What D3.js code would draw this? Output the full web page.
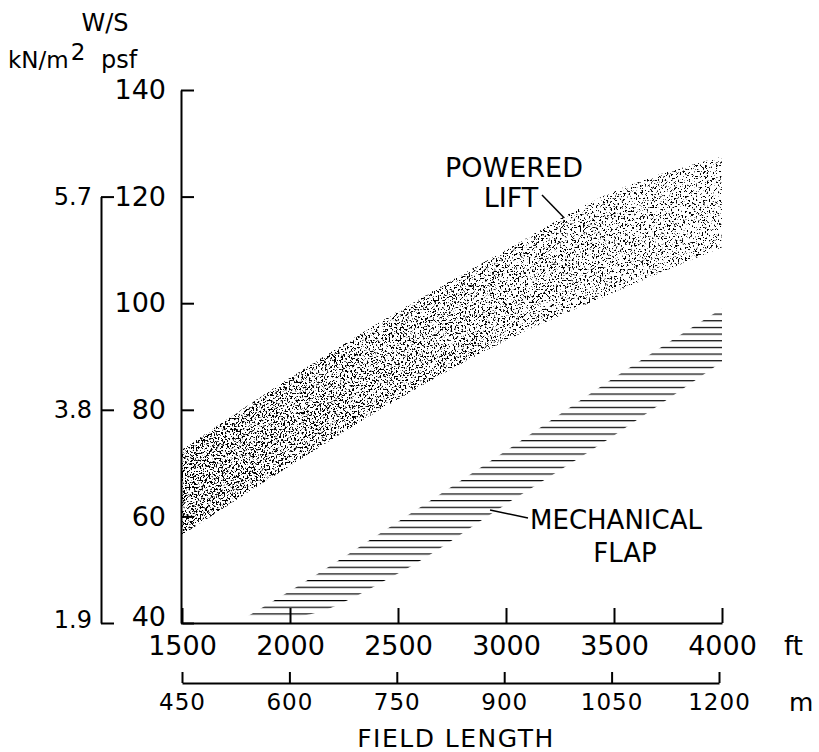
<!DOCTYPE html>
<html>
<head>
<meta charset="utf-8">
<script src="https://cdn.jsdelivr.net/npm/d3@7"></script>
<style>
  body { margin: 0; background: #fff; }
  text { font-family: "DejaVu Sans", sans-serif; fill: #000; }
</style>
</head>
<body>
<script>
// field length (ft) and W/S bounds (psf)
let liftFt = [1500, 2000, 2500, 3000, 3500, 4000];
let liftUpper = [72.5, 86, 98.5, 110, 121, 127.5];
let liftLower = [56.5, 69.5, 82, 93, 102, 110.5];

let flapFt = [1800, 2000, 2500, 3000, 3500, 4000];
let flapUpper = [40.7, 46, 59, 72.3, 86, 99];
let flapLower = [31, 36.3, 49.3, 62.3, 75.2, 89];
let flapFloor = 41.2; // hatching stops just above the axis

let psfTicks = [40, 60, 80, 100, 120, 140];
let knTicks = [1.9, 3.8, 5.7];
let ftTicks = [1500, 2000, 2500, 3000, 3500, 4000];
let mTicks = [450, 600, 750, 900, 1050, 1200];

let svg = d3.select("body").append("svg")
  .attr("width", 819).attr("height", 752);

let y = d3.scaleLinear().domain([40, 140]).range([623, 90]);
let yKn = d3.scaleLinear().domain([1.9, 5.7]).range([623, y(120)]);
let x = d3.scaleLinear().domain([1500, 4000]).range([182, 722]);
let xM = d3.scaleLinear().domain([450, 1200]).range([182, 719]);

let defs = svg.append("defs");

// stipple texture for the powered lift band (denser towards the left)
let grad = defs.append("linearGradient").attr("id", "dens");
grad.append("stop").attr("offset", 0).attr("stop-color", "#000").attr("stop-opacity", 1);
grad.append("stop").attr("offset", 1).attr("stop-color", "#000").attr("stop-opacity", 0);

let f = defs.append("filter").attr("id", "stip")
  .attr("filterUnits", "userSpaceOnUse")
  .attr("x", 0).attr("y", 0).attr("width", 819).attr("height", 752)
  .attr("color-interpolation-filters", "sRGB");
f.append("feTurbulence").attr("type", "fractalNoise")
  .attr("baseFrequency", 0.55).attr("numOctaves", 3).attr("seed", 9).attr("result", "n");
f.append("feColorMatrix").attr("in", "n").attr("type", "matrix")
  .attr("values", "0 0 0 0 0  0 0 0 0 0  0 0 0 0 0  1 0 0 0 0").attr("result", "na");
f.append("feComposite").attr("in", "na").attr("in2", "SourceGraphic")
  .attr("operator", "arithmetic").attr("k1", 0).attr("k2", 1).attr("k3", 0.07).attr("k4", 0)
  .attr("result", "s");
f.append("feComponentTransfer").attr("in", "s")
  .append("feFuncA").attr("type", "linear").attr("slope", 14).attr("intercept", -8.3);

let liftData = liftFt.map((d, i) => ({ft: d, lo: liftLower[i], hi: liftUpper[i]}));
let liftArea = d3.area()
  .x(d => x(d.ft))
  .y0(d => y(d.lo))
  .y1(d => y(d.hi))
  .curve(d3.curveMonotoneX);

defs.append("clipPath").attr("id", "liftClip")
  .append("path").attr("d", liftArea(liftData));

svg.append("path")
  .attr("d", liftArea(liftData))
  .attr("fill", "url(#dens)")
  .attr("filter", "url(#stip)")
  .attr("clip-path", "url(#liftClip)");

// horizontal hatching for the mechanical flap band
let hatchStep = 1.25; // psf between lines
let pat = defs.append("pattern").attr("id", "hatch")
  .attr("patternUnits", "userSpaceOnUse")
  .attr("x", 0).attr("y", y(41.7) - 0.6)
  .attr("width", 819).attr("height", y(40) - y(40 + hatchStep));
pat.append("rect").attr("x", 0).attr("y", 0)
  .attr("width", 819).attr("height", 1.2).attr("fill", "#000");

let flapData = flapFt.map((d, i) => ({ft: d, lo: flapLower[i], hi: flapUpper[i]}));
let flapArea = d3.area()
  .x(d => x(d.ft))
  .y0(d => y(Math.max(d.lo, flapFloor)))
  .y1(d => y(Math.max(d.hi, flapFloor)))
  .curve(d3.curveMonotoneX);

svg.append("path")
  .attr("d", flapArea(flapData))
  .attr("fill", "url(#hatch)");

// axes
let styleAxis = function(g, size) {
  g.attr("font-family", null).attr("font-size", null);
  g.selectAll("path.domain").attr("stroke", "#000").attr("stroke-width", 2);
  g.selectAll("line").attr("stroke", "#000").attr("stroke-width", 2);
  g.selectAll("text").style("font-size", size + "px");
};

let yAxis = d3.axisLeft(y).tickValues(psfTicks).tickSize(-13).tickSizeOuter(0).tickPadding(15);
svg.append("g").attr("transform", "translate(181,0)").call(yAxis)
  .call(g => styleAxis(g, 27))
  .selectAll(".tick text").filter(d => d === 40).attr("y", -6);

let knAxis = d3.axisLeft(yKn).tickValues(knTicks).tickSize(-13).tickSizeOuter(0).tickPadding(9)
  .tickFormat(d3.format(".1f"));
svg.append("g").attr("transform", "translate(101,0)").call(knAxis)
  .call(g => styleAxis(g, 24))
  .selectAll(".tick text").filter(d => d === 1.9).attr("y", -3);

let xAxis = d3.axisBottom(x).tickValues(ftTicks).tickSize(-15).tickSizeOuter(0).tickPadding(13)
  .tickFormat(d3.format("d"));
svg.append("g").attr("transform", "translate(0,623)").call(xAxis)
  .call(g => styleAxis(g, 27));

let mAxis = d3.axisBottom(xM).tickValues(mTicks).tickSize(-11).tickSizeOuter(0).tickPadding(11)
  .tickFormat(d3.format("d"));
svg.append("g").attr("transform", "translate(0,683)").call(mAxis)
  .call(g => styleAxis(g, 23))
  .selectAll("text").style("letter-spacing", "1px");

// unit labels
svg.append("text").attr("x", 105).attr("y", 31).attr("text-anchor", "middle")
  .style("font-size", "24px").text("W/S");
let kn = svg.append("text").attr("x", 8).attr("y", 68).style("font-size", "23px");
kn.append("tspan").text("kN/m");
kn.append("tspan").attr("dx", 2).attr("dy", -8).text("2");
svg.append("text").attr("x", 101).attr("y", 68).style("font-size", "24px").text("psf");

svg.append("text").attr("x", 784).attr("y", 655).style("font-size", "26px").text("ft");
svg.append("text").attr("x", 789).attr("y", 711).style("font-size", "25px").text("m");
svg.append("text").attr("x", 456).attr("y", 747).attr("text-anchor", "middle")
  .style("font-size", "25px").style("letter-spacing", "1.5px").text("FIELD LENGTH");

// band labels with leaders
svg.append("text").attr("x", 514).attr("y", 177).attr("text-anchor", "middle")
  .style("font-size", "27px").text("POWERED");
svg.append("text").attr("x", 511).attr("y", 207).attr("text-anchor", "middle")
  .style("font-size", "27px").text("LIFT");
svg.append("line")
  .attr("x1", 542).attr("y1", 195).attr("x2", x(3270)).attr("y2", y(116))
  .attr("stroke", "#000").attr("stroke-width", 1.5);

svg.append("text").attr("x", 616).attr("y", 529).attr("text-anchor", "middle")
  .style("font-size", "26px").text("MECHANICAL");
svg.append("text").attr("x", 625).attr("y", 562).attr("text-anchor", "middle")
  .style("font-size", "26px").text("FLAP");
svg.append("line")
  .attr("x1", 528).attr("y1", 518).attr("x2", x(2926)).attr("y2", y(61.2))
  .attr("stroke", "#000").attr("stroke-width", 1.5);
</script>
</body>
</html>
